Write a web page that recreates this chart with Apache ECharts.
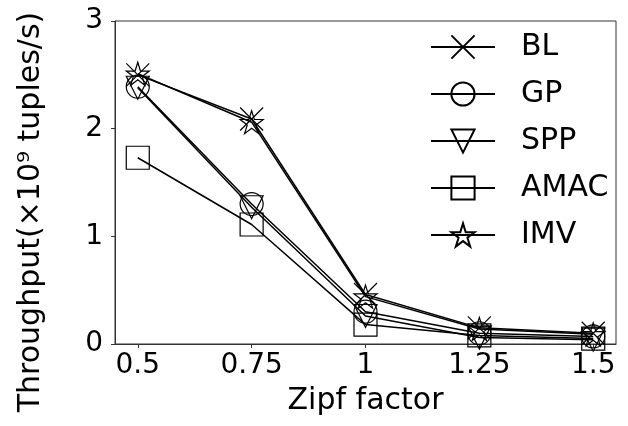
<!DOCTYPE html>
<html>
<head>
<meta charset="utf-8">
<script src="https://cdn.jsdelivr.net/npm/echarts@6/dist/echarts.min.js"></script>
<style>
html,body{margin:0;padding:0;background:#fff;}
#chart{width:628px;height:426px;}
</style>
</head>
<body>
<div id="chart"></div>
<script>
var zipf = [0.5, 0.75, 1, 1.25, 1.5];
var xTicks = [0.5, 0.75, 1, 1.25, 1.5];
var yTicks = [0, 1, 2, 3];
var seriesNames = ['BL', 'GP', 'SPP', 'AMAC', 'IMV'];
var BL   = [2.50, 2.09, 0.46, 0.15, 0.10];
var GP   = [2.39, 1.30, 0.30, 0.10, 0.07];
var SPP  = [2.38, 1.27, 0.26, 0.06, 0.04];
var AMAC = [1.73, 1.11, 0.18, 0.08, 0.05];
var IMV  = [2.51, 2.06, 0.44, 0.14, 0.09];

var FONT = 'DejaVu Sans';
var symbols = {
  BL: 'path://M0,0L10,10M10,0L0,10',
  GP: 'circle',
  SPP: 'path://M0,0L10,0L5,10Z',
  AMAC: 'rect',
  IMV: 'path://M50,0L61.2,34.6L97.6,34.6L68.1,55.9L79.4,90.5L50,69.1L20.6,90.5L31.9,55.9L2.4,34.6L38.8,34.6Z'
};
var values = {BL: BL, GP: GP, SPP: SPP, AMAC: AMAC, IMV: IMV};

var series = seriesNames.map(function (n) {
  return {
    name: n,
    type: 'line',
    data: zipf.map(function (x, i) { return [x, values[n][i]]; }),
    symbol: symbols[n],
    symbolSize: 23,
    color: '#000',
    lineStyle: {color: '#000', width: 1.5},
    itemStyle: {color: 'rgba(0,0,0,0)', borderColor: '#000', borderWidth: 1.2},
    emphasis: {disabled: true},
    animation: false
  };
});

var chart = echarts.init(document.getElementById('chart'), null, {renderer: 'canvas'});
chart.setOption({
  backgroundColor: '#fff',
  animation: false,
  grid: {left: 115, right: 12, top: 21, bottom: 82, show: true, borderColor: '#333', borderWidth: 1, backgroundColor: 'transparent'},
  legend: {
    data: seriesNames,
    orient: 'vertical',
    left: 430,
    top: 32,
    padding: 0,
    itemWidth: 64,
    itemHeight: 29,
    itemGap: 17,
    textStyle: {fontFamily: FONT, fontSize: 30, color: '#000', padding: [0, 0, 0, 21], lineHeight: 29},
    inactiveColor: '#000'
  },
  xAxis: {
    type: 'value',
    min: 0.45,
    max: 1.55,
    splitLine: {show: false},
    axisLine: {show: true, onZero: false, lineStyle: {color: '#333', width: 1}},
    axisTick: {show: true, customValues: xTicks, length: 4, lineStyle: {color: '#333'}},
    axisLabel: {customValues: xTicks, fontFamily: FONT, fontSize: 28, color: '#000', margin: 8},
    name: 'Zipf factor',
    nameLocation: 'middle',
    nameGap: 42,
    nameTextStyle: {fontFamily: FONT, fontSize: 30, color: '#000', verticalAlign: 'top'}
  },
  yAxis: {
    type: 'value',
    min: 0,
    max: 3,
    interval: 1,
    splitLine: {show: false},
    axisLine: {show: true, lineStyle: {color: '#333', width: 1}},
    axisTick: {show: true, length: 4, lineStyle: {color: '#333'}},
    axisLabel: {fontFamily: FONT, fontSize: 28, color: '#000', margin: 12}
  },
  graphic: [{
    type: 'text',
    x: 31,
    y: 212,
    rotation: Math.PI / 2,
    style: {
      text: 'Throughput(\u00d710\u2079 tuples/s)',
      fontFamily: FONT,
      fontSize: 30,
      fill: '#000',
      align: 'center',
      verticalAlign: 'middle'
    }
  }],
  series: series
});
</script>
</body>
</html>
